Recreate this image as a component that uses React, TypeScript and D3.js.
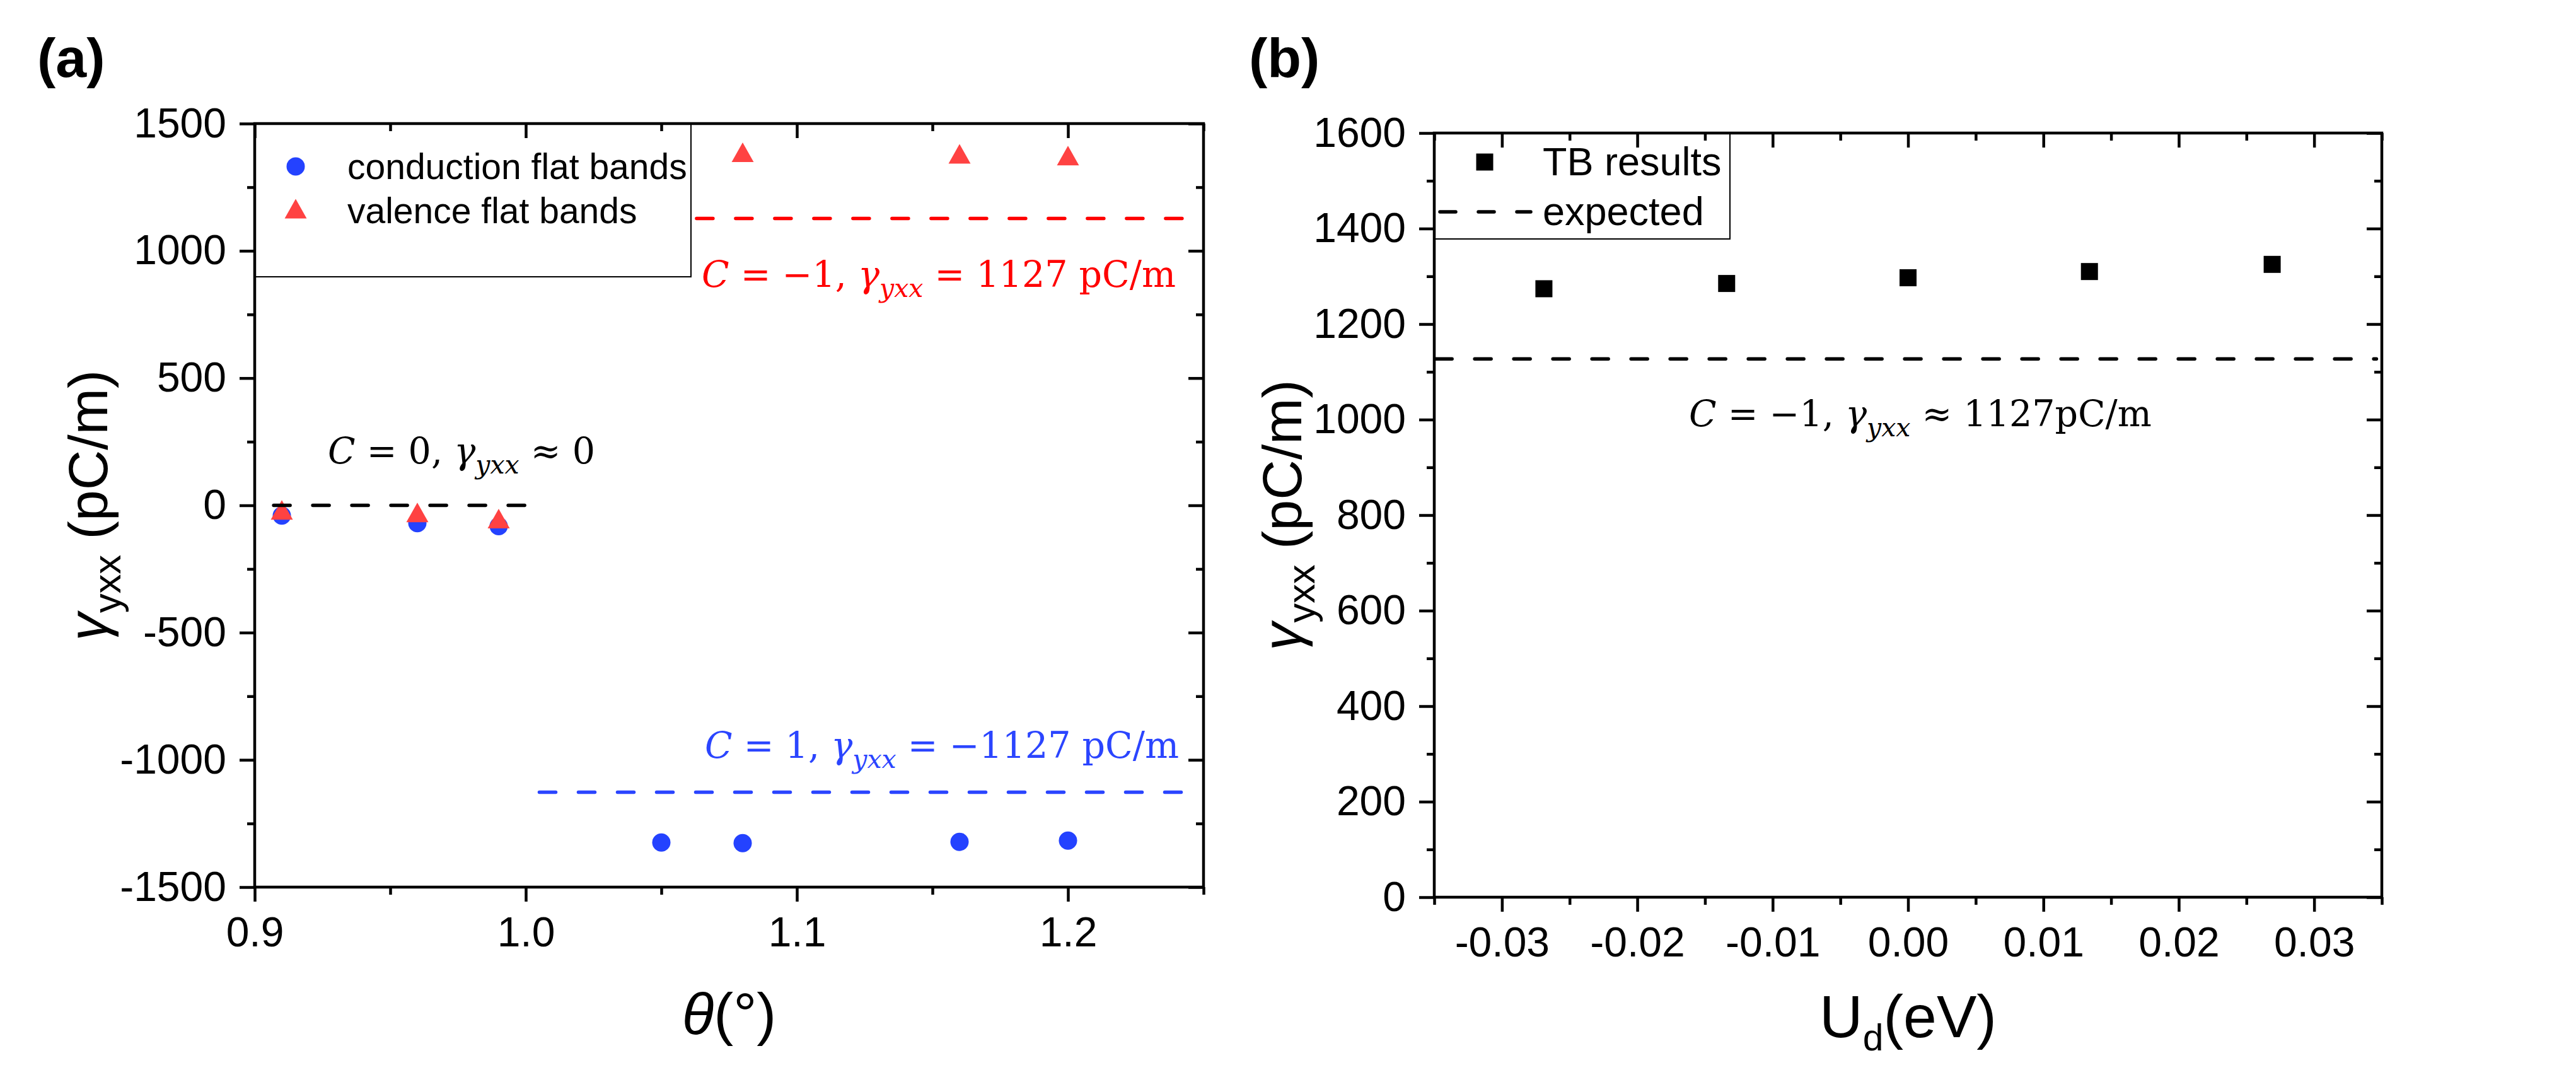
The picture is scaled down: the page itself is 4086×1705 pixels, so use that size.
import React, { useEffect, useRef } from "react";
import * as d3 from "d3";

const W = 4086;
const H = 1705;

// ---------- Panel (a) data ----------
const thetaDomain = [0.9, 1.25];
const thetaMajor = [0.9, 1.0, 1.1, 1.2];
const thetaMinor = [0.95, 1.05, 1.15, 1.25];
const gammaADomain = [-1500, 1500];
const gammaAMajor = [-1500, -1000, -500, 0, 500, 1000, 1500];
const gammaAMinor = [-1250, -750, -250, 250, 750, 1250];

const conductionTheta = [0.91, 0.96, 0.99, 1.05, 1.08, 1.16, 1.2];
const conductionGamma = [-40, -70, -82, -1325, -1327, -1322, -1317];
const valenceTheta = [0.91, 0.96, 0.99, 1.08, 1.16, 1.2];
const valenceGamma = [-18, -28, -52, 1387, 1381, 1374];

// reference lines (Chern number expectations)
const refLineStart = [0.907, 1.063, 1.005];
const refLineEnd = [1.0, 1.243, 1.243];
const refLineValue = [0, 1127, -1127];

// ---------- Panel (b) data ----------
const udDomain = [-0.035, 0.035];
const udMajor = [-0.03, -0.02, -0.01, 0, 0.01, 0.02, 0.03];
const udMinor = [-0.035, -0.025, -0.015, -0.005, 0.005, 0.015, 0.025, 0.035];
const gammaBDomain = [0, 1600];
const gammaBMajor = [0, 200, 400, 600, 800, 1000, 1200, 1400, 1600];
const gammaBMinor = [100, 300, 500, 700, 900, 1100, 1300, 1500];

const tbUd = [-0.0269, -0.0134, 0, 0.0134, 0.0269];
const tbGamma = [1274, 1285, 1297, 1310, 1325];
const expectedGamma = 1127;

const SANS = "'Liberation Sans', Arial, sans-serif";
const SERIF = "'DejaVu Serif', 'Liberation Serif', serif";
const BLUE = "#2442FF";
const RED_MARK = "#FF4242";
const RED_LINE = "#FF0000";
const BLUE_LINE = "#2B45FF";

type Part = { t: string; it?: boolean; sub?: boolean };

function appendRich(
  g: any,
  x: number,
  y: number,
  parts: Part[],
  fs: number,
  color: string,
  family: string,
  anchor = "start",
  transform?: string,
  subScale = 0.7,
  subShift = 0.24
) {
  const text = g
    .append("text")
    .attr("x", x)
    .attr("y", y)
    .attr("font-family", family)
    .attr("font-size", fs)
    .attr("fill", color)
    .attr("text-anchor", anchor);
  if (transform) text.attr("transform", transform);
  let inSub = false;
  const shift = fs * subShift;
  parts.forEach((p) => {
    const ts = text.append("tspan").text(p.t);
    ts.attr("font-style", p.it ? "italic" : "normal");
    if (p.sub) {
      ts.attr("font-size", fs * subScale);
      if (!inSub) ts.attr("dy", shift);
      inSub = true;
    } else {
      if (inSub) ts.attr("dy", -shift);
      inSub = false;
    }
  });
  return text;
}

function drawFrameAxes(
  g: any,
  x: any,
  y: any,
  box: { left: number; right: number; top: number; bottom: number },
  xMajor: number[],
  xMinor: number[],
  yMajor: number[],
  yMinor: number[],
  xFmt: (d: number) => string,
  yFmt: (d: number) => string
) {
  const SW = 4.5;
  const MAJ = 23;
  const MIN = 12;
  const style = (sel: any) => {
    sel.select(".domain").remove();
    sel.selectAll("line").attr("stroke", "#000").attr("stroke-width", SW);
    sel
      .selectAll("text")
      .attr("font-family", SANS)
      .attr("font-size", 66)
      .attr("fill", "#000");
  };
  const none = () => "";

  // bottom
  g.append("g")
    .attr("transform", `translate(0,${box.bottom})`)
    .call(d3.axisBottom(x).tickValues(xMinor).tickSize(MIN).tickSizeOuter(0).tickFormat(none))
    .call(style);
  const bx = g
    .append("g")
    .attr("transform", `translate(0,${box.bottom})`)
    .call(d3.axisBottom(x).tickValues(xMajor).tickSize(MAJ).tickSizeOuter(0).tickFormat(xFmt as any))
    .call(style);
  bx.selectAll("text").attr("y", 94).attr("dy", null);

  // top (inward)
  g.append("g")
    .attr("transform", `translate(0,${box.top})`)
    .call(d3.axisTop(x).tickValues(xMinor).tickSize(-MIN).tickSizeOuter(0).tickFormat(none))
    .call(style);
  g.append("g")
    .attr("transform", `translate(0,${box.top})`)
    .call(d3.axisTop(x).tickValues(xMajor).tickSize(-MAJ).tickSizeOuter(0).tickFormat(none))
    .call(style);

  // left
  g.append("g")
    .attr("transform", `translate(${box.left},0)`)
    .call(d3.axisLeft(y).tickValues(yMinor).tickSize(MIN).tickSizeOuter(0).tickFormat(none))
    .call(style);
  const ly = g
    .append("g")
    .attr("transform", `translate(${box.left},0)`)
    .call(d3.axisLeft(y).tickValues(yMajor).tickSize(MAJ + 1).tickSizeOuter(0).tickFormat(yFmt as any))
    .call(style);
  ly.selectAll("text").attr("x", -45).attr("dy", "0.32em");

  // right (inward)
  g.append("g")
    .attr("transform", `translate(${box.right},0)`)
    .call(d3.axisRight(y).tickValues(yMinor).tickSize(-MIN).tickSizeOuter(0).tickFormat(none))
    .call(style);
  g.append("g")
    .attr("transform", `translate(${box.right},0)`)
    .call(d3.axisRight(y).tickValues(yMajor).tickSize(-(MAJ + 1)).tickSizeOuter(0).tickFormat(none))
    .call(style);

  g.append("rect")
    .attr("x", box.left)
    .attr("y", box.top)
    .attr("width", box.right - box.left)
    .attr("height", box.bottom - box.top)
    .attr("fill", "none")
    .attr("stroke", "#000")
    .attr("stroke-width", SW);
}

const TRI_W = 35;
const TRI_H = 31;
const triPath = `M${-TRI_W / 2},${TRI_H / 2}L${TRI_W / 2},${TRI_H / 2}L0,${-TRI_H / 2}Z`;
const DASH = "26 36";
const DASH_W = 5.5;

export default function App() {
  const ref = useRef<SVGSVGElement | null>(null);

  useEffect(() => {
    const svg = d3.select(ref.current);
    svg.selectAll("*").remove();
    const root = svg.append("g");

    const hy = (s: string) => s.replace("\u2212", "-");

    // ================= Panel (a) =================
    const A = { left: 404, right: 1909, top: 196, bottom: 1407 };
    const xa = d3.scaleLinear().domain(thetaDomain).range([A.left, A.right]);
    const ya = d3.scaleLinear().domain(gammaADomain).range([A.bottom, A.top]);
    const ga = root.append("g");

    // legend box (a)
    ga.append("rect")
      .attr("x", A.left)
      .attr("y", A.top)
      .attr("width", 1096 - A.left)
      .attr("height", 439 - A.top)
      .attr("fill", "#fff")
      .attr("stroke", "#000")
      .attr("stroke-width", 2);

    // markers
    ga.append("g")
      .selectAll("circle")
      .data(conductionTheta.map((t, i) => [t, conductionGamma[i]]))
      .join("circle")
      .attr("cx", (d: number[]) => xa(d[0]))
      .attr("cy", (d: number[]) => ya(d[1]))
      .attr("r", 14.5)
      .attr("fill", BLUE);
    ga.append("g")
      .selectAll("path")
      .data(valenceTheta.map((t, i) => [t, valenceGamma[i]]))
      .join("path")
      .attr("d", triPath)
      .attr("transform", (d: number[]) => `translate(${xa(d[0])},${ya(d[1])})`)
      .attr("fill", RED_MARK);

    // reference dashed lines
    const refColors = ["#000", RED_LINE, BLUE_LINE];
    const lineGen = d3
      .line<number[]>()
      .x((d) => xa(d[0]))
      .y((d) => ya(d[1]));
    refLineValue.forEach((v, i) => {
      ga.append("path")
        .attr("d", lineGen([[refLineStart[i], v], [refLineEnd[i], v]]))
        .attr("stroke", refColors[i])
        .attr("stroke-width", DASH_W)
        .attr("stroke-dasharray", DASH)
        .attr("stroke-linecap", "round")
        .attr("fill", "none");
    });

    drawFrameAxes(
      ga,
      xa,
      ya,
      A,
      thetaMajor,
      thetaMinor,
      gammaAMajor,
      gammaAMinor,
      (d) => hy(d3.format(".1f")(d)),
      (d) => hy(d3.format("d")(d))
    );

    // legend entries (a)
    ga.append("circle").attr("cx", 469).attr("cy", 264).attr("r", 14.5).attr("fill", BLUE);
    ga.append("path").attr("d", triPath).attr("transform", "translate(469,331)").attr("fill", RED_MARK);
    ga.append("text")
      .attr("x", 551)
      .attr("y", 284)
      .attr("font-family", SANS)
      .attr("font-size", 57)
      .text("conduction flat bands");
    ga.append("text")
      .attr("x", 551)
      .attr("y", 354)
      .attr("font-family", SANS)
      .attr("font-size", 57)
      .text("valence flat bands");

    // annotations (a)
    const EQ = 57;
    appendRich(
      ga,
      520,
      735,
      [
        { t: "C", it: true },
        { t: " = 0, " },
        { t: "\u03B3", it: true },
        { t: "yxx", it: true, sub: true },
        { t: " \u2248 0" },
      ],
      EQ,
      "#000",
      SERIF,
      "start",
      undefined,
      0.72,
      0.28
    );
    appendRich(
      ga,
      1113,
      455,
      [
        { t: "C", it: true },
        { t: " = \u22121, " },
        { t: "\u03B3", it: true },
        { t: "yxx", it: true, sub: true },
        { t: " = 1127 pC/m" },
      ],
      EQ,
      RED_LINE,
      SERIF,
      "start",
      undefined,
      0.72,
      0.28
    );
    appendRich(
      ga,
      1118,
      1202,
      [
        { t: "C", it: true },
        { t: " = 1, " },
        { t: "\u03B3", it: true },
        { t: "yxx", it: true, sub: true },
        { t: " = \u22121127 pC/m" },
      ],
      EQ,
      BLUE_LINE,
      SERIF,
      "start",
      undefined,
      0.72,
      0.28
    );

    // axis titles (a)
    appendRich(
      ga,
      (A.left + A.right) / 2,
      1640,
      [{ t: "\u03B8", it: true }, { t: "(\u00B0)" }],
      93,
      "#000",
      SANS,
      "middle"
    );
    appendRich(
      ga,
      0,
      0,
      [{ t: "\u03B3", it: true }, { t: "yxx", sub: true }, { t: " (pC/m)" }],
      88,
      "#000",
      SANS,
      "middle",
      `translate(170,${(A.top + A.bottom) / 2}) rotate(-90)`
    );
    ga.append("text")
      .attr("x", 59)
      .attr("y", 122)
      .attr("font-family", SANS)
      .attr("font-weight", "bold")
      .attr("font-size", 88)
      .text("(a)");

    // ================= Panel (b) =================
    const B = { left: 2275, right: 3778, top: 211, bottom: 1423 };
    const xb = d3.scaleLinear().domain(udDomain).range([B.left, B.right]);
    const yb = d3.scaleLinear().domain(gammaBDomain).range([B.bottom, B.top]);
    const gb = root.append("g");

    gb.append("rect")
      .attr("x", B.left)
      .attr("y", B.top)
      .attr("width", 2744 - B.left)
      .attr("height", 379 - B.top)
      .attr("fill", "#fff")
      .attr("stroke", "#000")
      .attr("stroke-width", 2);

    const SQ = 27;
    gb.append("g")
      .selectAll("rect")
      .data(tbUd.map((u, i) => [u, tbGamma[i]]))
      .join("rect")
      .attr("x", (d: number[]) => xb(d[0]) - SQ / 2)
      .attr("y", (d: number[]) => yb(d[1]) - SQ / 2)
      .attr("width", SQ)
      .attr("height", SQ)
      .attr("fill", "#000");

    const lineB = d3
      .line<number[]>()
      .x((d) => xb(d[0]))
      .y((d) => yb(d[1]));
    gb.append("path")
      .attr("d", lineB([[udDomain[0] + 0.0001, expectedGamma], [udDomain[1] - 0.0004, expectedGamma]]))
      .attr("stroke", "#000")
      .attr("stroke-width", DASH_W)
      .attr("stroke-dasharray", DASH)
      .attr("stroke-linecap", "round")
      .attr("fill", "none");

    drawFrameAxes(
      gb,
      xb,
      yb,
      B,
      udMajor,
      udMinor,
      gammaBMajor,
      gammaBMinor,
      (d) => hy(d3.format(".2f")(Math.abs(d) < 1e-9 ? 0 : d)),
      (d) => hy(d3.format("d")(d))
    );

    // legend entries (b)
    gb.append("rect")
      .attr("x", 2355 - SQ / 2)
      .attr("y", 257 - SQ / 2)
      .attr("width", SQ)
      .attr("height", SQ)
      .attr("fill", "#000");
    gb.append("line")
      .attr("x1", 2284)
      .attr("x2", 2428)
      .attr("y1", 336)
      .attr("y2", 336)
      .attr("stroke", "#000")
      .attr("stroke-width", DASH_W)
      .attr("stroke-dasharray", "25 36")
      .attr("stroke-linecap", "round");
    gb.append("text")
      .attr("x", 2447)
      .attr("y", 278)
      .attr("font-family", SANS)
      .attr("font-size", 63)
      .text("TB results");
    gb.append("text")
      .attr("x", 2447)
      .attr("y", 357)
      .attr("font-family", SANS)
      .attr("font-size", 63)
      .text("expected");

    appendRich(
      gb,
      2679,
      676,
      [
        { t: "C", it: true },
        { t: " = \u22121, " },
        { t: "\u03B3", it: true },
        { t: "yxx", it: true, sub: true },
        { t: " \u2248 1127pC/m" },
      ],
      EQ,
      "#000",
      SERIF,
      "start",
      undefined,
      0.72,
      0.28
    );

    appendRich(
      gb,
      (B.left + B.right) / 2,
      1645,
      [{ t: "U" }, { t: "d", sub: true }, { t: "(eV)" }],
      95,
      "#000",
      SANS,
      "middle",
      undefined,
      0.62,
      0.22
    );
    appendRich(
      gb,
      0,
      0,
      [{ t: "\u03B3", it: true }, { t: "yxx", sub: true }, { t: " (pC/m)" }],
      88,
      "#000",
      SANS,
      "middle",
      `translate(2064,${(B.top + B.bottom) / 2}) rotate(-90)`
    );
    gb.append("text")
      .attr("x", 1981)
      .attr("y", 122)
      .attr("font-family", SANS)
      .attr("font-weight", "bold")
      .attr("font-size", 88)
      .text("(b)");
  }, []);

  return (
    <svg
      ref={ref}
      width={W}
      height={H}
      viewBox={`0 0 ${W} ${H}`}
      style={{ position: "absolute", left: 0, top: 0, background: "#fff", display: "block" }}
    />
  );
}
